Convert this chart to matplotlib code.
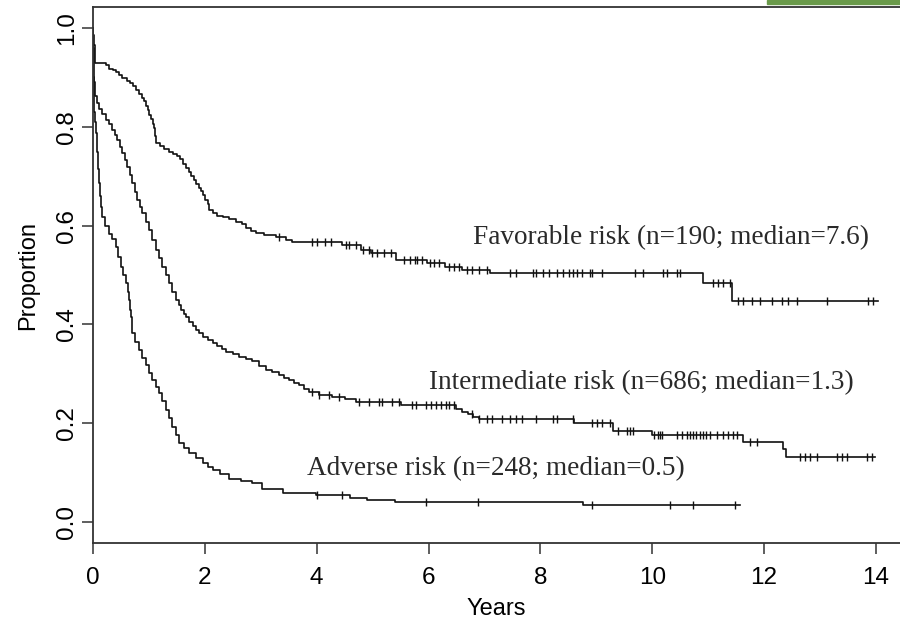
import numpy as np
import matplotlib
matplotlib.use("Agg")
import matplotlib.pyplot as plt
from matplotlib.patches import Rectangle

# Kaplan-Meier curves (time in years, survival proportion)
fav_t = [0, 0.005, 0.015, 0.03, 0.045, 0.23, 0.29, 0.35, 0.41, 0.47, 0.52, 0.60, 0.66, 0.72,
         0.77, 0.82, 0.87, 0.91, 0.95, 0.98, 1.01, 1.04, 1.07, 1.09, 1.11, 1.13, 1.20, 1.27,
         1.36, 1.43, 1.50, 1.56, 1.61, 1.66, 1.71, 1.75, 1.80, 1.84, 1.89, 1.93, 1.97, 2.01,
         2.05, 2.08, 2.14, 2.22, 2.32, 2.44, 2.56, 2.66, 2.74, 2.82, 2.91, 3.05, 3.27, 3.45,
         3.56, 4.45, 4.8, 4.97, 5.42, 5.98, 6.3, 6.6, 7.1, 10.9, 11.42]
fav_s = [1.0, 0.985, 0.965, 0.945, 0.93, 0.925, 0.918, 0.914, 0.911, 0.905, 0.898, 0.893,
         0.889, 0.882, 0.874, 0.866, 0.858, 0.852, 0.843, 0.834, 0.824, 0.815, 0.806, 0.797,
         0.782, 0.768, 0.762, 0.756, 0.750, 0.745, 0.740, 0.734, 0.725, 0.717, 0.709, 0.700,
         0.692, 0.684, 0.676, 0.670, 0.661, 0.652, 0.643, 0.632, 0.626, 0.620, 0.617, 0.613,
         0.608, 0.603, 0.596, 0.590, 0.585, 0.581, 0.577, 0.571, 0.567, 0.561, 0.551, 0.545,
         0.530, 0.524, 0.516, 0.510, 0.504, 0.484, 0.447]
fav_end = 14.03
fav_cens = [3.33, 3.92, 4.01, 4.14, 4.26, 4.53, 4.58, 4.71, 4.82, 4.94, 4.99, 5.08, 5.21, 5.33,
            5.57, 5.66, 5.75, 5.80, 5.89, 6.02, 6.10, 6.19, 6.37, 6.46, 6.55, 6.68, 6.78,
            6.91, 7.04, 7.45, 7.57, 7.86, 7.93, 8.04, 8.16, 8.29, 8.40, 8.52, 8.58, 8.66,
            8.75, 8.88, 8.93, 9.11, 9.69, 9.83, 10.19, 10.26, 10.44, 10.49, 11.08, 11.17,
            11.26, 11.39, 11.53, 11.62, 11.78, 11.92, 12.14, 12.32, 12.42, 12.59, 13.12,
            13.86, 13.95]

int_t = [0, 0.005, 0.01, 0.02, 0.036, 0.07, 0.107, 0.16, 0.227, 0.28, 0.346, 0.39, 0.435,
         0.48, 0.524, 0.57, 0.614, 0.66, 0.704, 0.75, 0.793, 0.84, 0.883, 0.94, 1.0, 1.06,
         1.12, 1.18, 1.24, 1.30, 1.36, 1.42, 1.48, 1.53, 1.57, 1.62, 1.66, 1.72, 1.78, 1.84,
         1.90, 1.97, 2.05, 2.14, 2.22, 2.30, 2.38, 2.50, 2.61, 2.73, 2.85, 2.97, 3.09, 3.21,
         3.33, 3.42, 3.51, 3.60, 3.69, 3.78, 3.87, 4.05, 4.28, 4.50, 4.70, 5.5, 6.5, 6.6,
         6.7, 6.8, 6.9, 8.6, 9.3, 10.0, 11.62, 12.33, 12.4]
int_s = [1.0, 0.96, 0.92, 0.89, 0.862, 0.848, 0.836, 0.826, 0.814, 0.805, 0.794, 0.784,
         0.773, 0.760, 0.746, 0.733, 0.719, 0.703, 0.686, 0.669, 0.652, 0.638, 0.625, 0.608,
         0.591, 0.571, 0.551, 0.534, 0.517, 0.500, 0.483, 0.466, 0.449, 0.439, 0.429, 0.422,
         0.416, 0.405, 0.396, 0.389, 0.382, 0.375, 0.369, 0.362, 0.356, 0.350, 0.345, 0.340,
         0.335, 0.330, 0.325, 0.316, 0.308, 0.303, 0.298, 0.292, 0.287, 0.282, 0.277, 0.270,
         0.264, 0.257, 0.254, 0.248, 0.242, 0.236, 0.228, 0.222, 0.218, 0.213, 0.209, 0.200,
         0.184, 0.176, 0.162, 0.148, 0.132]
int_end = 13.98
int_cens = [3.92, 4.05, 4.22, 4.40, 4.76, 4.94, 5.12, 5.17, 5.35, 5.48, 5.71, 5.78, 5.96,
            6.05, 6.14, 6.23, 6.32, 6.37, 6.46, 6.78, 6.91, 7.04, 7.14, 7.32, 7.45, 7.57,
            7.68, 7.93, 8.22, 8.29, 8.58, 8.93, 9.02, 9.11, 9.24, 9.38, 9.54, 9.60, 9.65,
            10.04, 10.10, 10.13, 10.17, 10.44, 10.54, 10.62, 10.67, 10.72, 10.79, 10.85,
            10.90, 10.97, 11.03, 11.15, 11.26, 11.35, 11.44, 11.51, 11.74, 11.87, 12.64,
            12.73, 12.82, 12.94, 13.30, 13.39, 13.48, 13.84, 13.93]

adv_t = [0, 0.004, 0.008, 0.014, 0.022, 0.032, 0.048, 0.07, 0.09, 0.107, 0.13, 0.15, 0.167,
         0.22, 0.286, 0.34, 0.406, 0.45, 0.495, 0.54, 0.585, 0.62, 0.644, 0.66, 0.675, 0.69,
         0.704, 0.76, 0.823, 0.88, 0.94, 1.0, 1.06, 1.12, 1.18, 1.24, 1.30, 1.36, 1.42,
         1.48, 1.54, 1.63, 1.72, 1.84, 1.96, 2.05, 2.14, 2.28, 2.43, 2.64, 2.85, 3.03, 3.39,
         3.99, 4.6, 4.9, 5.4, 8.76]
adv_s = [1.0, 0.95, 0.90, 0.86, 0.83, 0.81, 0.787, 0.75, 0.715, 0.686, 0.66, 0.638, 0.618,
         0.600, 0.584, 0.572, 0.557, 0.537, 0.517, 0.500, 0.483, 0.465, 0.449, 0.430, 0.415,
         0.398, 0.382, 0.365, 0.348, 0.333, 0.317, 0.301, 0.288, 0.274, 0.261, 0.244, 0.227,
         0.210, 0.193, 0.176, 0.159, 0.149, 0.139, 0.129, 0.119, 0.112, 0.105, 0.097, 0.088,
         0.083, 0.078, 0.066, 0.059, 0.055, 0.049, 0.045, 0.040, 0.034]
adv_end = 11.57
adv_cens = [4.01, 4.46, 5.96, 6.88, 8.93, 10.31, 10.72, 11.48]

labels = ["Favorable risk (n=190; median=7.6)",
          "Intermediate risk (n=686; median=1.3)",
          "Adverse risk (n=248; median=0.5)"]
label_pos = [(6.80, 0.575), (6.01, 0.283), (3.83, 0.109)]

xticks = [0, 2, 4, 6, 8, 10, 12, 14]
yticks = [0.0, 0.2, 0.4, 0.6, 0.8, 1.0]

fig = plt.figure(figsize=(9, 6.21), dpi=100)
ax = fig.add_axes([0.1033, 0.1256, 0.8967, 0.8631])

curves = [(fav_t, fav_s, fav_end, fav_cens),
          (int_t, int_s, int_end, int_cens),
          (adv_t, adv_s, adv_end, adv_cens)]
for t, s, end, cens in curves:
    t = np.array(t)
    s = np.array(s)
    ax.step(np.append(t, end), np.append(s, s[-1]), where='post', color='#111111', lw=1.2)
    # censoring marks sit on the curve at the censored times
    idx = np.searchsorted(t, cens, side='right') - 1
    ax.plot(cens, s[idx], ls='none', marker='|', color='#111111', ms=6, mew=1.0)

for txt, (x, y) in zip(labels, label_pos):
    ax.text(x, y, txt, family='Liberation Serif', fontsize=19.6, color='#2a2a2a',
            ha='left', va='center')

ax.set_xlim(0, 14.43)
ax.set_ylim(-0.0425, 1.0425)
ax.set_xticks(xticks)
ax.set_xticklabels([str(v) for v in xticks], family='Liberation Sans', fontsize=17.5)
ax.set_yticks(yticks)
ax.set_yticklabels(["%.1f" % v for v in yticks], family='Liberation Sans', fontsize=17.5,
                   rotation=90, va='center')
ax.tick_params(axis='x', length=8, width=1.1, pad=9, color='#333333')
ax.tick_params(axis='y', length=8, width=1.1, pad=3, color='#333333')
ax.spines['right'].set_visible(False)
for sp in ['left', 'bottom', 'top']:
    ax.spines[sp].set_linewidth(1.3)
    ax.spines[sp].set_color('#333333')

ax.set_xlabel('Years', family='Liberation Sans', fontsize=17, labelpad=7)
ax.set_ylabel('Proportion', family='Liberation Sans', fontsize=17, labelpad=12)

# green corner from the scanned page
fig.patches.append(Rectangle((0.852, 0.993), 0.148, 0.007, transform=fig.transFigure,
                             color='#6a9a4a', zorder=5))

fig.savefig('out.png', dpi=100)
